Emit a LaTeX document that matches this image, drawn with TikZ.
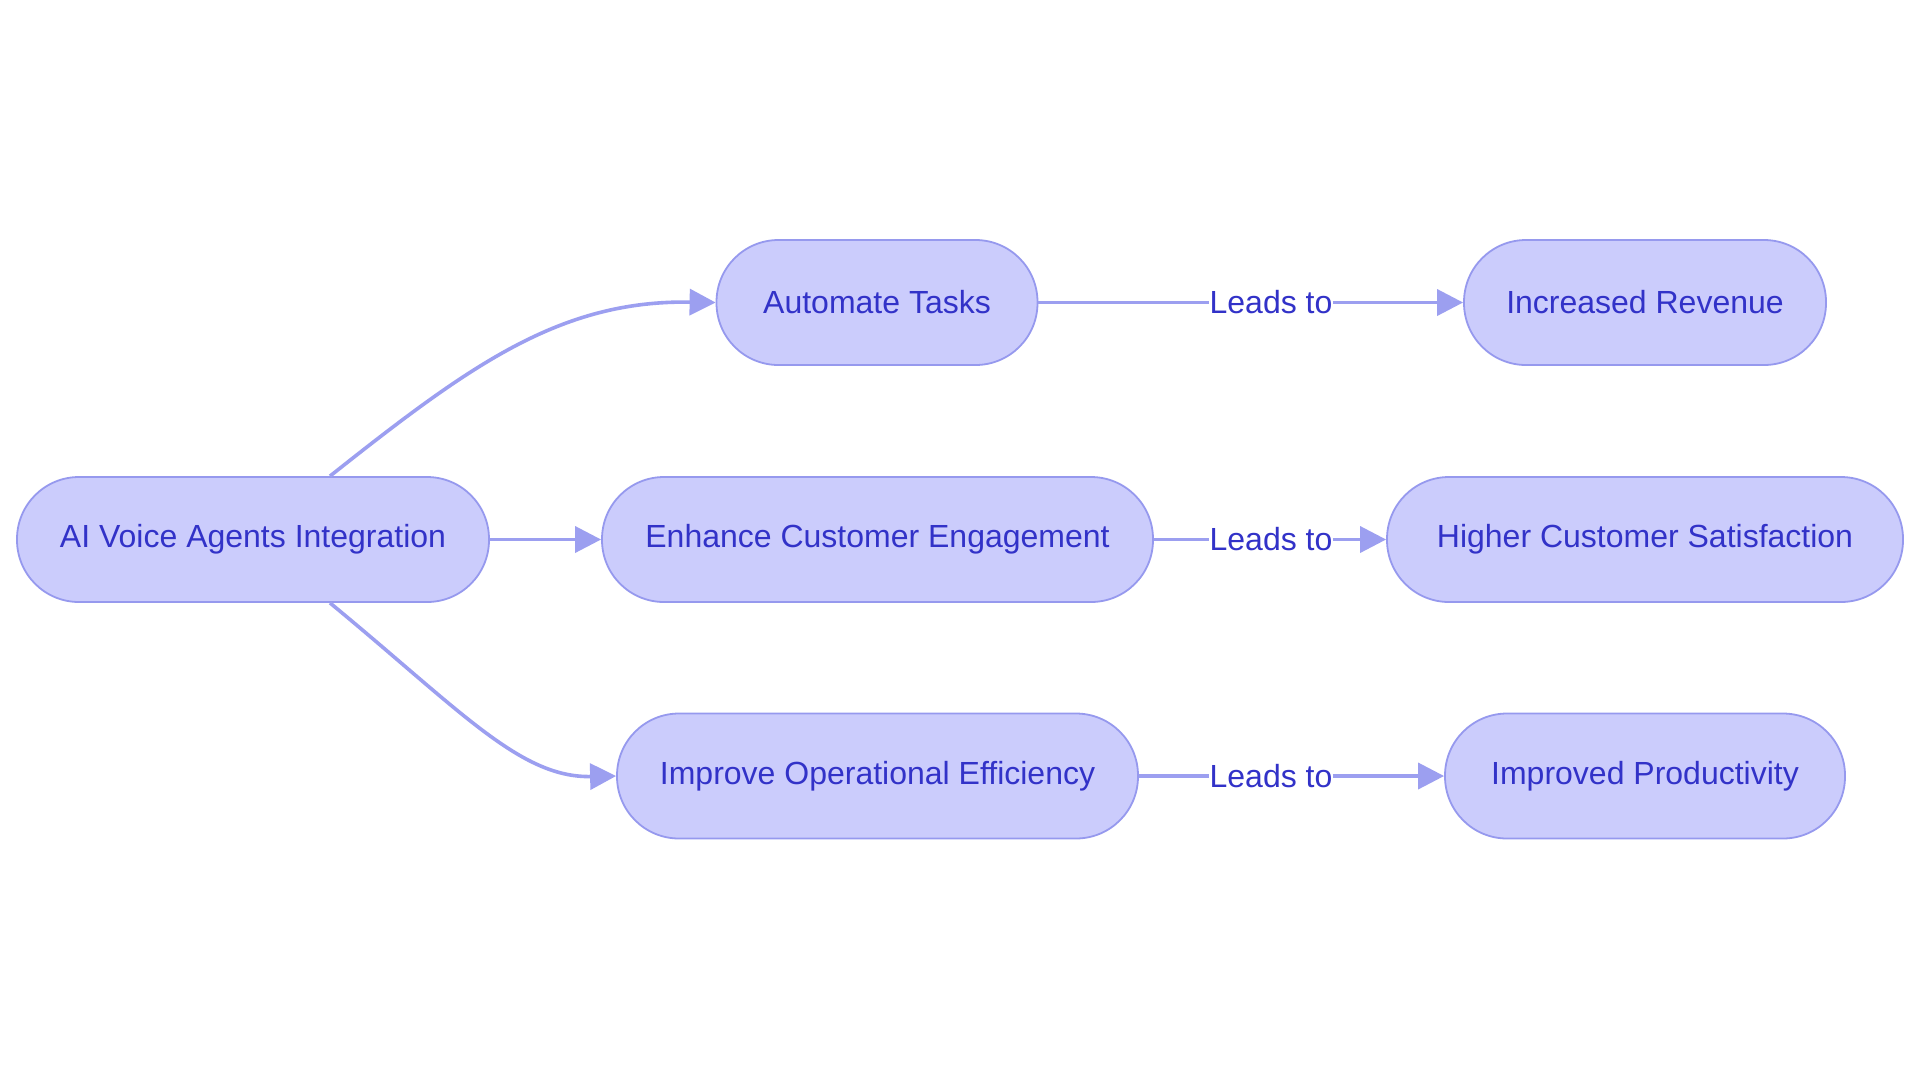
\documentclass[tikz,border=0pt]{standalone}
\usepackage{fontspec}
\setmainfont{Liberation Sans}
\usetikzlibrary{arrows.meta,calc}
\definecolor{nodefill}{RGB}{203,204,252}
\definecolor{nodeline}{RGB}{150,153,238}
\definecolor{edgecol}{RGB}{156,159,240}
\definecolor{txt}{RGB}{50,50,200}
\tikzset{
  box/.style={draw=nodeline, fill=nodefill, line width=0.9pt, rounded corners=31pt,
    minimum height=62.5pt, inner sep=0pt, text=txt, font=\fontsize{16}{19}\selectfont},
  edge/.style={draw=edgecol, line width=1.8pt, -{Triangle[length=13pt,width=13pt]}},
  lbl/.style={fill=white, inner sep=0pt, text=txt, font=\fontsize{16}{19}\selectfont}
}
\begin{document}
\begin{tikzpicture}[x=0.5pt,y=-0.5pt]
\useasboundingbox[fill=white] (0,0) rectangle (1920,1083);
\node[box, minimum width=236pt] (ai) at (253,539.5) {AI Voice Agents Integration};
\node[box, minimum width=160.5pt] (auto) at (877,302.5) {Automate Tasks};
\node[box, minimum width=275.5pt] (enh) at (877.5,539.5) {Enhance Customer Engagement};
\node[box, minimum width=260.5pt] (imp) at (877.5,776) {Improve Operational Efficiency};
\node[box, minimum width=181pt] (rev) at (1645,302.5) {Increased Revenue};
\node[box, minimum width=258pt] (sat) at (1645,539.5) {Higher Customer Satisfaction};
\node[box, minimum width=200pt] (prod) at (1645,776) {Improved Productivity};
\node[lbl] (l1) at (1271,302.5) {Leads to};
\node[lbl] (l2) at (1271,539.5) {Leads to};
\node[lbl] (l3) at (1271,776) {Leads to};
\coordinate (s1) at ($(ai.north)+(77,0)$);
\coordinate (s3) at ($(ai.south)+(77,0)$);
\draw[edge] (s1) .. controls (470,365) and (560,300) .. (auto.west);
\draw[edge] (ai) -- (enh);
\draw[edge] (s3) .. controls (460,710) and (520,778) .. (imp.west);
\draw[edge] (auto) -- (l1) -- (rev);
\draw[edge] (enh) -- (l2) -- (sat);
\draw[edge] (imp) -- (l3) -- (prod);
\end{tikzpicture}
\end{document}
